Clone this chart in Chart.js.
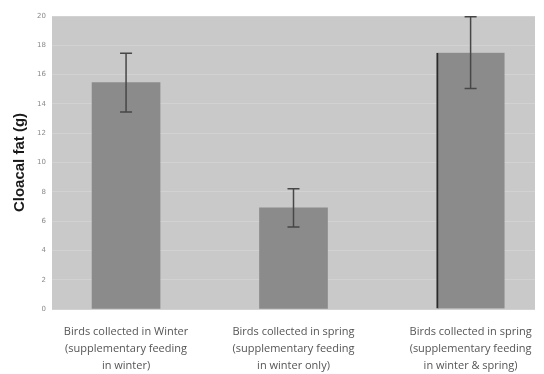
<!DOCTYPE html>
<html>
<head>
<meta charset="utf-8">
<script src="https://cdn.jsdelivr.net/npm/chart.js@4"></script>
<style>
  html, body { margin: 0; padding: 0; background: #ffffff; }
  #wrap { width: 544px; height: 374px; }
</style>
</head>
<body>
<div id="wrap"><canvas id="c" width="544" height="374"></canvas></div>
<script>
// Group labels (each split onto three lines under its bar)
const groups = [
  ["Birds collected in Winter", "(supplementary feeding", "in winter)"],
  ["Birds collected in spring", "(supplementary feeding", "in winter only)"],
  ["Birds collected in spring", "(supplementary feeding", "in winter & spring)"]
];
// Bar centre positions along the x axis
const positions = [0.46, 1.5, 2.6];
// Mean cloacal fat (g) and the half-length of each error bar
const fatMeans = [15.45, 6.9, 17.5];
const fatErrors = [2.0, 1.3, 2.45];
const yTicks = [0, 2, 4, 6, 8, 10, 12, 14, 16, 18, 20];

const plotBackground = {
  id: 'plotBackground',
  beforeDraw(chart) {
    const { ctx, chartArea: a } = chart;
    ctx.save();
    ctx.fillStyle = '#c9c9c9';
    ctx.fillRect(a.left, a.top, a.right - a.left, a.bottom - a.top);
    ctx.restore();
  }
};

const errorBars = {
  id: 'errorBars',
  afterDatasetsDraw(chart) {
    const { ctx, scales: { x, y } } = chart;
    ctx.save();
    ctx.strokeStyle = '#474747';
    ctx.lineWidth = 1.5;
    fatMeans.forEach((m, i) => {
      const px = x.getPixelForValue(positions[i]);
      const top = y.getPixelForValue(m + fatErrors[i]);
      const bot = y.getPixelForValue(m - fatErrors[i]);
      ctx.beginPath();
      ctx.moveTo(px, top); ctx.lineTo(px, bot);
      ctx.moveTo(px - 6, top); ctx.lineTo(px + 6, top);
      ctx.moveTo(px - 6, bot); ctx.lineTo(px + 6, bot);
      ctx.stroke();
    });
    ctx.restore();
  }
};

new Chart(document.getElementById('c'), {
  type: 'bar',
  data: {
    datasets: [{
      data: positions.map((p, i) => ({ x: p, y: fatMeans[i] })),
      backgroundColor: '#8b8b8b',
      borderColor: ['#8b8b8b', '#8b8b8b', '#2a2a2a'],
      borderWidth: [0, 0, { left: 2, top: 0, right: 0, bottom: 0 }],
      borderSkipped: false,
      barThickness: 68
    }]
  },
  options: {
    responsive: false,
    animation: false,
    layout: { padding: { top: 16, right: 9, left: 0, bottom: 0 } },
    plugins: { legend: { display: false }, tooltip: { enabled: false } },
    scales: {
      x: {
        type: 'linear',
        min: 0,
        max: 3,
        offset: false,
        grid: { display: false, offset: false },
        border: { display: false },
        afterBuildTicks(scale) {
          scale.ticks = positions.map(v => ({ value: v }));
        },
        afterFit(scale) { scale.height = 65; },
        ticks: {
          autoSkip: false,
          maxRotation: 0,
          padding: 6,
          color: '#555555',
          font: { family: 'Open Sans', size: 11, lineHeight: 1.55 },
          callback(value) {
            const i = positions.indexOf(value);
            return i >= 0 ? groups[i] : '';
          }
        }
      },
      y: {
        min: 0,
        max: 20,
        afterBuildTicks(scale) {
          scale.ticks = yTicks.map(v => ({ value: v }));
        },
        afterFit(scale) { scale.width = 52; },
        grid: { color: '#d2d2d2', lineWidth: 1, drawTicks: false },
        border: { display: false },
        ticks: {
          padding: 6,
          color: '#8a8a8a',
          font: { family: 'DejaVu Sans', size: 7 }
        },
        title: {
          display: true,
          text: 'Cloacal fat (g)',
          color: '#1a1a1a',
          padding: { top: 11, bottom: 0 },
          font: { family: 'Liberation Sans', size: 15, weight: 'bold' }
        }
      }
    }
  },
  plugins: [plotBackground, errorBars]
});
</script>
</body>
</html>
